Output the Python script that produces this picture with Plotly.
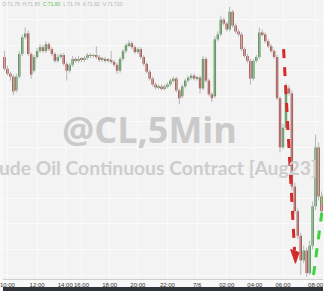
import plotly.graph_objects as go

# ---------------- data (CL 5-min) ----------------
opens = [72.02,71.90,71.85,71.82,71.68,71.82,72.05,72.22,72.26,72.05,
         71.88,72.02,72.08,72.12,72.08,72.15,72.10,72.05,71.98,72.02,
         72.04,71.95,71.88,71.94,72.00,71.98,72.00,71.99,72.01,72.04,
         72.03,72.04,72.02,71.99,72.00,71.98,71.99,71.97,71.94,71.88,
         72.00,72.08,72.14,72.16,72.12,72.07,72.10,72.02,71.95,71.87,
         71.80,71.74,71.71,71.72,71.70,71.72,71.74,71.78,71.80,71.68,
         71.62,71.72,71.78,71.81,71.83,71.80,71.81,71.70,72.00,71.78,
         71.64,71.62,72.20,72.25,72.40,72.36,72.30,72.48,72.34,72.28,
         72.25,72.10,72.03,71.98,71.80,71.98,72.02,72.27,72.25,72.18,
         72.13,72.08,72.02,71.60,71.10,71.30,71.70,71.65,70.70,70.45,
         70.20,69.95,70.05,69.82,70.10,70.50,71.10,70.60]
closes = [71.90,71.85,71.82,71.67,71.82,72.05,72.22,72.26,72.05,71.84,
          72.02,72.08,72.12,72.08,72.15,72.10,72.05,71.98,72.02,72.04,
          71.95,71.88,71.94,72.00,71.98,72.00,71.99,72.01,72.04,72.03,
          72.04,72.02,71.99,72.00,71.98,71.99,71.97,71.94,71.88,72.00,
          72.08,72.14,72.16,72.12,72.07,72.10,72.02,71.95,71.87,71.80,
          71.74,71.71,71.72,71.70,71.72,71.74,71.78,71.80,71.68,71.60,
          71.72,71.78,71.81,71.83,71.80,71.81,71.70,72.00,71.78,71.64,
          71.60,72.20,72.25,72.40,72.36,72.30,72.48,72.34,72.28,72.25,
          72.10,72.03,71.98,71.80,71.98,72.02,72.27,72.25,72.18,72.13,
          72.08,72.02,71.60,71.10,71.30,71.70,71.65,70.70,70.45,70.20,
          69.95,70.05,69.82,70.10,70.50,71.10,70.60,70.45]
highs = [72.08,71.93,71.87,71.84,71.85,72.08,72.25,72.32,72.29,72.07,
         72.04,72.11,72.15,72.14,72.18,72.17,72.12,72.07,72.05,72.06,
         72.06,71.97,71.96,72.03,72.02,72.03,72.02,72.03,72.06,72.06,
         72.05,72.13,72.04,72.02,72.02,72.01,72.08,71.99,71.96,72.02,
         72.10,72.16,72.19,72.18,72.14,72.12,72.12,72.04,71.97,71.89,
         71.82,71.76,71.74,71.74,71.74,71.76,71.80,71.82,71.82,71.70,
         71.74,71.80,71.83,71.85,71.85,71.83,71.83,72.03,72.02,71.80,
         71.66,72.23,72.28,72.44,72.42,72.38,72.53,72.50,72.36,72.30,
         72.27,72.12,72.05,72.00,72.00,72.04,72.32,72.30,72.27,72.20,
         72.15,72.10,72.04,71.62,71.34,71.75,71.73,71.68,70.74,70.48,
         70.23,70.10,70.08,70.15,70.55,71.23,71.15,70.65]
lows = [71.88,71.83,71.78,71.63,71.66,71.80,72.03,72.20,72.03,71.80,
        71.86,72.00,72.06,72.06,72.06,72.08,72.03,71.96,71.96,72.00,
        71.93,71.78,71.86,71.92,71.96,71.96,71.97,71.97,71.99,72.01,
        72.01,72.00,71.97,71.97,71.96,71.96,71.95,71.92,71.85,71.86,
        71.98,72.06,72.12,72.10,72.05,72.05,72.00,71.93,71.85,71.78,
        71.72,71.69,71.69,71.68,71.68,71.70,71.72,71.76,71.66,71.54,
        71.60,71.70,71.76,71.79,71.78,71.78,71.65,71.68,71.76,71.62,
        71.56,71.60,72.18,72.23,72.34,72.28,72.28,72.32,72.26,72.23,
        72.08,72.01,71.96,71.74,71.78,71.96,72.00,72.23,72.16,72.11,
        72.06,72.00,71.58,71.05,71.08,71.28,71.63,70.66,70.42,70.17,
        69.80,69.92,69.78,69.80,70.06,70.46,70.56,70.40]
tick_labels = ["10:00", "12:00", "14:00", "16:00", "18:00", "20:00",
               "22:00", "7/6", "02:00", "04:00", "06:00", "08:00"]
tick_pos = [1, 11, 20.5, 26, 35.5, 45, 55, 65, 75, 84.5, 94, 105]

bars = list(range(len(opens)))

# ---------------- figure ----------------
fig = go.Figure()

# grey wicks
wx, wy = [], []
for i in bars:
    wx += [i, i, None]
    wy += [lows[i], highs[i], None]
fig.add_trace(go.Scatter(x=wx, y=wy, mode="lines",
                         line=dict(color="#b5b5b5", width=1),
                         hoverinfo="skip", showlegend=False))

# bodies as floating bars
UP = "#3a8a3c"
DOWN = "#a5332b"
for want_up, col in ((True, UP), (False, DOWN)):
    xs, base, hgt = [], [], []
    for i in bars:
        if (closes[i] >= opens[i]) == want_up:
            xs.append(i)
            base.append(min(opens[i], closes[i]))
            hgt.append(abs(closes[i] - opens[i]))
    fig.add_trace(go.Bar(x=xs, y=hgt, base=base, width=0.8,
                         marker=dict(color=col, line=dict(width=0)),
                         hoverinfo="skip", showlegend=False))

RED = "#d42a2a"
GREEN = "#3fd23f"
shapes = [
    # red dashed arrow
    dict(type="line", xref="x", yref="y", x0=94.2, y0=72.10, x1=97.9, y1=70.05,
         line=dict(color=RED, width=3, dash="dash")),
    dict(type="path", xref="x", yref="y",
         path="M 96.6,70.06 L 99.4,70.03 L 98.2,69.92 Z",
         fillcolor=RED, line=dict(color=RED, width=1)),
    # green dashed arrow
    dict(type="line", xref="x", yref="y", x0=104.3, y0=69.80, x1=108.5, y1=70.75,
         line=dict(color=GREEN, width=3, dash="dash")),
    # bottom dark strip
    dict(type="rect", xref="paper", yref="paper", x0=0, x1=1,
         y0=-12 / 279, y1=-8 / 279, fillcolor="#30343a", line=dict(width=0),
         layer="above"),
]

annotations = [
    dict(text="@CL,5Min", xref="paper", yref="paper", x=148 / 324, y=1 - 129 / 279,
         showarrow=False, font=dict(family="Open Sans", size=36, color="#cacaca",
                                    weight="bold"),
         xanchor="center", yanchor="middle"),
    dict(text="Crude Oil Continuous Contract [Aug23]", xref="paper", yref="paper",
         x=147 / 324, y=1 - 167 / 279, showarrow=False,
         font=dict(family="Lato", size=19.3, color="#cdcdcd", weight="bold"),
         xanchor="center", yanchor="middle"),
    dict(text=("O:71.78&nbsp;&nbsp;H:71.85&nbsp;&nbsp;"
               "<span style='color:#5cbf5c'>C:71.80</span>&nbsp;&nbsp;L:71.74&nbsp;&nbsp;"
               "A:71.82&nbsp;&nbsp;V:71.720"),
         xref="paper", yref="paper", x=-0.01, y=1 - 4 / 279, showarrow=False,
         font=dict(family="Liberation Sans", size=5, color="#b5b5b5"),
         xanchor="left", yanchor="middle"),
]

fig.update_layout(
    width=324, height=291,
    margin=dict(l=0, r=0, t=0, b=12),
    paper_bgcolor="#f8f8f8",
    plot_bgcolor="#f3f3f3",
    barmode="overlay",
    shapes=shapes,
    annotations=annotations,
    showlegend=False,
    xaxis=dict(range=[-0.5, len(bars) - 0.5],
               tickmode="array", tickvals=tick_pos, ticktext=tick_labels,
               tickangle=0, ticklabeloverflow="allow",
               showgrid=True, gridcolor="#fafafa", gridwidth=1,
               showline=True, linecolor="#cfcfcf", linewidth=1,
               ticks="", tickfont=dict(family="Liberation Sans", size=6, color="#333333"),
               zeroline=False, fixedrange=True),
    yaxis=dict(range=[69.76, 72.60], showticklabels=False,
               tick0=70.32, dtick=0.26, showgrid=True, gridcolor="#fafafa",
               zeroline=False, fixedrange=True),
)

fig.write_html("out.html")
